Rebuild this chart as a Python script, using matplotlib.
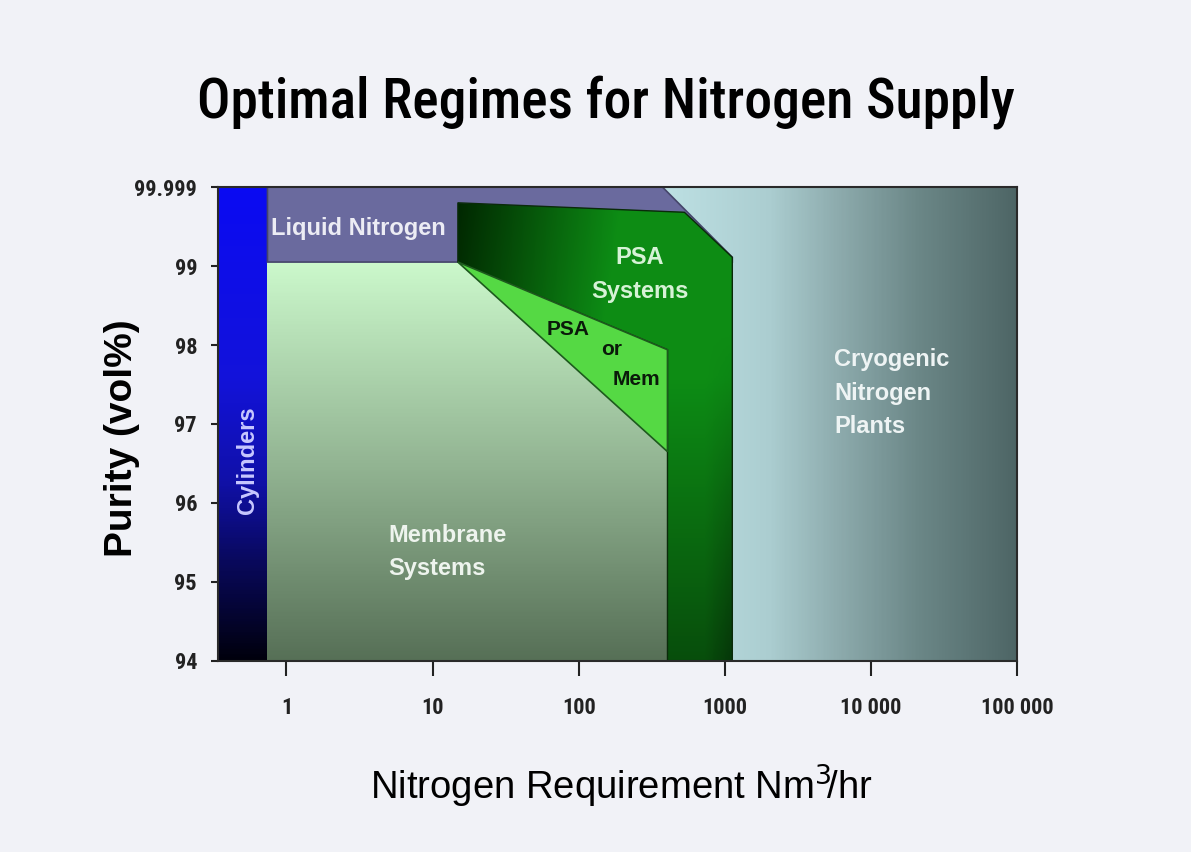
import numpy as np
import matplotlib.pyplot as plt
from matplotlib.patches import Polygon
from matplotlib.colors import LinearSegmentedColormap
from matplotlib import font_manager

# %%
# Axis data: purity ticks are equally spaced, so purity is stored as tick position 0..6
purity_labels = ["94", "95", "96", "97", "98", "99", "99.999"]
flow_ticks = [1, 10, 100, 1000, 10000, 100000]
flow_labels = ["1", "10", "100", "1000", "10 000", "100 000"]

# Region boundaries: flow in Nm3/hr, purity as tick position
cyl_x = [0.34, 0.742]
ln_x = [0.742, 0.742, 374, 1125, 1125]
ln_y = [5.05, 6.0, 6.0, 5.11, 5.05]
mem_x = [0.742, 405]
mem_top = 5.05
psa_x = [14.9, 529, 1125, 1125, 405, 405, 14.9]
psa_y = [5.80, 5.68, 5.11, 0.0, 0.0, 3.94, 5.05]
mix_x = [14.9, 405, 405]
mix_y = [5.05, 3.94, 2.65]
cryo_x = [374, 100000]

# %%
# Pick a condensed family for the title and tick labels
names = {f.name for f in font_manager.fontManager.ttflist}
narrow = "Liberation Sans"
for cand in ["Liberation Sans Narrow", "Roboto Condensed", "Archivo Narrow", "Barlow Semi Condensed"]:
    if cand in names:
        narrow = cand
        break
plt.rcParams["font.family"] = ["Liberation Sans", "DejaVu Sans"]

fig = plt.figure(figsize=(11.91, 8.52), dpi=100)
fig.patch.set_facecolor("#f1f2f7")
ax = fig.add_axes([0.183, 0.2242, 0.671, 0.5563])
ax.set_xscale("log")
ax.set_xlim(cyl_x[0], cryo_x[1])
ax.set_ylim(0, 6)


def grid(xr, yr, n=300):
    X = np.logspace(np.log10(xr[0]), np.log10(xr[1]), n)
    Y = np.linspace(yr[0], yr[1], n)
    return X, Y


def fill(X, Y, C, clip=None, z=1):
    m = ax.pcolormesh(X, Y, C, shading="auto", edgecolors="none", zorder=z, rasterized=True)
    if clip is not None:
        ax.add_patch(clip)
        m.set_clip_path(clip)
    return m


# Cryogenic plants: horizontal gradient light cyan -> dark slate
X, Y = grid(cryo_x, [0, 6])
u = np.linspace(0, 1, len(X))
cryo_cmap = LinearSegmentedColormap.from_list(
    "cryo", [(0, "#bde0e3"), (0.3, "#abcdd0"), (0.5, "#8caaac"), (0.72, "#6b8787"), (1, "#4d6565")])
C = cryo_cmap(np.tile(u, (len(Y), 1)))
fill(X, Y, C, z=1)

# Cylinders: vertical blue gradient
X, Y = grid(cyl_x, [0, 6])
v = np.linspace(0, 1, len(Y))
cyl_cmap = LinearSegmentedColormap.from_list(
    "cyl", [(0, "#00000c"), (0.2, "#080858"), (0.38, "#1010a8"), (0.6, "#1212da"), (1, "#0a0af2")])
C = cyl_cmap(np.tile(v[:, None], (1, len(X))))
fill(X, Y, C, z=2)

# Membrane systems: vertical green-grey gradient
X, Y = grid(mem_x, [0, mem_top])
v = np.linspace(0, 1, len(Y))
mem_cmap = LinearSegmentedColormap.from_list(
    "mem", [(0, "#566f56"), (0.5, "#93b593"), (1, "#cbf8cb")])
C = mem_cmap(np.tile(v[:, None], (1, len(X))))
fill(X, Y, C, z=2)

# Liquid nitrogen
ln = Polygon(np.column_stack([ln_x, ln_y]), closed=True, facecolor="#6a6a9e",
             edgecolor="#45456a", linewidth=1.2, zorder=3)
ax.add_patch(ln)

# PSA systems: dark green, darker to the upper left and at the bottom right
X, Y = grid([psa_x[0], psa_x[2]], [0, 6])
uu, vv = np.meshgrid(np.linspace(0, 1, len(X)), np.linspace(0, 1, len(Y)))
th = np.clip((uu + 0.25 * (0.97 - vv)) / 0.6, 0, 1)[..., None]
fv = (0.55 + 0.45 * np.clip(vv / 0.6, 0, 1))[..., None]
dark = np.array([0.0, 0.15, 0.0])
bright = np.array([0.05, 0.55, 0.08])
rgb = (dark + (bright - dark) * th) * fv
rgb = rgb * (1 - 0.3 * np.clip((uu - 0.9) / 0.1, 0, 1) * np.clip(1 - vv / 0.7, 0, 1))[..., None]
psa = Polygon(np.column_stack([psa_x, psa_y]), closed=True, facecolor="none",
              edgecolor="#0a2a0a", linewidth=1.0, zorder=5)
fill(X, Y, np.clip(rgb, 0, 1), clip=psa, z=4)

# PSA or membrane overlap
mix = Polygon(np.column_stack([mix_x, mix_y]), closed=True, facecolor="#55d944",
              edgecolor="#1d5a1d", linewidth=1.2, zorder=6)
ax.add_patch(mix)

# %%
# Region labels
ax.text(0.78, 5.48, "Liquid Nitrogen", color="#ececf4", fontsize=17,
        fontweight="bold", va="center", ha="left", zorder=8)
ax.text(0.54, 2.54, "Cylinders", color="#c8c8ff", fontsize=17, fontweight="bold",
        rotation=90, va="center", ha="center", zorder=8)
ax.text(5.0, 1.38, "Membrane\nSystems", color="#eef4ee", fontsize=17,
        fontweight="bold", va="center", ha="left", linespacing=1.6, zorder=8)
ax.text(261, 4.89, "PSA\nSystems", color="#d6f2d6", fontsize=17,
        fontweight="bold", va="center", ha="center", linespacing=1.6, zorder=8)
ax.text(84, 4.19, "PSA", color="#0a1a0a", fontsize=15, fontweight="bold",
        va="center", ha="center", zorder=8)
ax.text(168, 3.94, "or", color="#0a1a0a", fontsize=15, fontweight="bold",
        va="center", ha="center", zorder=8)
ax.text(249, 3.56, "Mem", color="#0a1a0a", fontsize=15, fontweight="bold",
        va="center", ha="center", zorder=8)
ax.text(5600, 3.39, "Cryogenic\nNitrogen\nPlants", color="#eef4f4", fontsize=17,
        fontweight="bold", va="center", ha="left", linespacing=1.6, zorder=8)

# %%
ax.set_yticks(range(len(purity_labels)))
ax.set_yticklabels(purity_labels, fontsize=16, fontweight="bold", family=narrow)
ax.set_xticks(flow_ticks)
ax.set_xticklabels(flow_labels, fontsize=16, fontweight="bold", family=narrow)
ax.xaxis.set_minor_locator(plt.NullLocator())
ax.tick_params(axis="x", length=11, width=1.5, pad=15, colors="#222222")
ax.tick_params(axis="y", length=5, width=1.5, pad=10, colors="#222222")
for s in ax.spines.values():
    s.set_color("#2a2a2a")
    s.set_linewidth(1.5)
    s.set_zorder(9)

ax.set_ylabel("Purity (vol%)", fontsize=28, fontweight="bold")
ax.yaxis.set_label_coords(-0.098, 0.47)
ax.set_xlabel("Nitrogen Requirement Nm$^3\\!$/hr", fontsize=27.5)
ax.xaxis.set_label_coords(0.505, -0.215)
fig.text(0.509, 0.88, "Optimal Regimes for Nitrogen Supply", fontsize=40,
         family=narrow, fontweight="medium", ha="center", va="center")

fig.savefig("out.png", dpi=100, facecolor=fig.get_facecolor())
